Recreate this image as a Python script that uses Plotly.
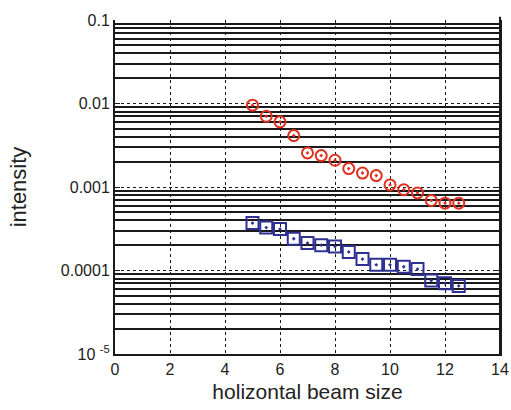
import plotly.graph_objects as go

x_vals = [5, 5.5, 6, 6.5, 7, 7.5, 8, 8.5, 9, 9.5, 10, 10.5, 11, 11.5, 12, 12.5]
red_vals = [0.00955, 0.00704, 0.00603, 0.00413, 0.00256, 0.00238, 0.00209, 0.00166,
            0.00147, 0.00137, 0.00106, 0.00093, 0.00085, 0.00069, 0.00064, 0.00064]
blue_vals = [0.000370, 0.000327, 0.000313, 0.000240, 0.000213, 0.000201, 0.000194, 0.000167,
             0.000137, 0.000117, 0.000117, 0.000111, 0.000104, 0.0000757, 0.0000705, 0.0000654]

y_tickvals = [1e-5, 1e-4, 1e-3, 1e-2, 1e-1]
y_ticktext = ["10 <sup>-5</sup>", "0.0001", "0.001", "0.01", "0.1"]
y_minor = [m * d for d in [1e-5, 1e-4, 1e-3, 1e-2] for m in range(2, 10)]
x_tickvals = [0, 2, 4, 6, 8, 10, 12, 14]

fig = go.Figure()
fig.add_trace(go.Scatter(
    x=x_vals, y=red_vals, mode="markers",
    marker=dict(symbol="circle-dot", size=11, color="rgba(0,0,0,0)",
                line=dict(color="#e0301e", width=2)),
    showlegend=False))
fig.add_trace(go.Scatter(
    x=x_vals, y=blue_vals, mode="markers",
    marker=dict(symbol="square-dot", size=12, color="rgba(0,0,0,0)",
                line=dict(color="#2e3192", width=2)),
    showlegend=False))

font_family = "Liberation Sans, Arial, sans-serif"
fig.update_layout(
    width=511, height=410,
    margin=dict(l=115, r=11, t=20, b=56, autoexpand=False),
    paper_bgcolor="white", plot_bgcolor="white",
    font=dict(family=font_family, size=16, color="#222"),
    xaxis=dict(
        range=[0, 14], tickmode="array", tickvals=x_tickvals,
        showgrid=True, gridcolor="#1a1a1a", griddash="dot", gridwidth=1.3,
        showline=True, linecolor="#1a1a1a", linewidth=2, mirror=False,
        ticks="", zeroline=False, automargin=False,
        title=dict(text="holizontal beam size", font=dict(size=21), standoff=7),
        tickfont=dict(size=16),
    ),
    yaxis=dict(
        type="log", range=[-5, -1], tickmode="array",
        tickvals=y_tickvals, ticktext=y_ticktext,
        showgrid=True, gridcolor="#1a1a1a", griddash="dot", gridwidth=1.3,
        showline=True, linecolor="#1a1a1a", linewidth=2, mirror="allticks",
        ticks="inside", ticklen=5, tickcolor="#1a1a1a", tickwidth=1,
        zeroline=False, automargin=False,
        minor=dict(tickmode="array", tickvals=y_minor, showgrid=True,
                   gridcolor="#1a1a1a", gridwidth=1.5, griddash="solid",
                   ticks="inside", ticklen=4, tickcolor="#1a1a1a"),
        title=dict(text="intensity", font=dict(size=22), standoff=28),
        tickfont=dict(size=16),
    ),
    shapes=[dict(type="line", xref="paper", yref="paper", x0=1, x1=1, y0=0, y1=1.01,
                 line=dict(color="#1a1a1a", width=2))],
)

fig.write_html("out.html")
